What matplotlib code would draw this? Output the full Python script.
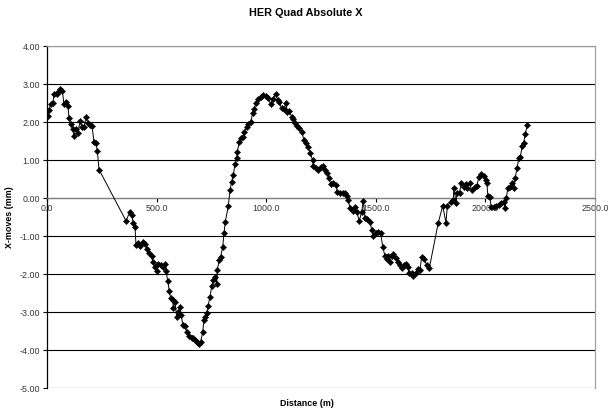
import matplotlib
matplotlib.use("Agg")
import matplotlib.pyplot as plt
from matplotlib.ticker import FormatStrFormatter

plt.rcParams['font.family'] = ['Liberation Sans', 'DejaVu Sans']

distance_m = [
    3.2, 9.1, 16.9, 26.0, 33.3, 44.3, 51.6, 59.3, 69.8, 77.6, 86.7, 95.8, 100.4, 109.5,
    117.2, 123.2, 132.3, 141.4, 150.6, 159.7, 168.8, 177.9, 187.1, 196.2, 205.3, 214.4,
    223.5, 229.5, 237.2,
    360.4, 378.6, 386.4, 393.7, 401.4, 406.0, 416.5, 424.2, 436.6, 447.0, 457.6, 466.7,
    477.6, 482.2, 492.7, 500.4, 507.8, 518.7, 530.6, 538.3, 542.9, 550.6, 557.9, 564.3,
    573.4, 576.2, 583.9, 591.7, 599.0, 606.7, 612.7, 619.0, 629.6, 637.3, 649.2, 660.1,
    667.4, 676.5, 685.7, 694.8,
    701.2, 710.3, 716.2, 720.8, 728.5, 734.5, 743.6, 751.4, 758.7, 766.4, 774.2, 776.9,
    786.0, 792.5, 801.6, 807.5, 813.5, 827.1, 834.9, 842.6, 849.9, 857.7, 865.4, 868.2,
    877.3, 885.1, 892.8, 900.1, 911.1, 918.3, 929.3, 938.4, 944.3, 953.5, 963.9, 974.9,
    986.8, 999.3, 1009.8, 1020.5, 1029.7, 1043.4, 1052.5, 1059.8, 1070.7, 1081.2, 1090.3,
    1096.3, 1105.4, 1116.4, 1123.7, 1131.4, 1141.9, 1151.0, 1162.0, 1172.4, 1181.6, 1192.1,
    1199.8, 1212.1, 1214.9, 1227.2, 1237.7, 1248.6, 1257.8, 1268.2, 1276.0, 1286.5, 1294.3,
    1306.1, 1318.5, 1324.4, 1336.7, 1349.0, 1359.5, 1367.2, 1374.5, 1382.3,
    1394.6, 1405.1, 1412.7, 1424.7, 1435.7, 1443.0, 1450.8, 1461.3, 1473.6, 1481.3, 1488.6,
    1500.9, 1511.4, 1522.3, 1531.4, 1542.0, 1549.7, 1557.0, 1564.8, 1572.5, 1579.8, 1592.1,
    1602.6, 1610.3, 1618.1, 1628.6, 1637.7, 1645.5, 1652.8, 1663.7, 1671.1, 1683.4, 1693.9,
    1701.6, 1709.4, 1719.9, 1732.2, 1744.0,
    1785.0, 1805.2, 1820.2, 1826.2, 1841.6, 1853.5, 1856.0, 1867.0, 1869.9, 1882.1, 1889.8,
    1900.3, 1909.5, 1915.5, 1927.7, 1936.9, 1950.6, 1961.0, 1970.2, 1981.1, 1991.6, 2000.8,
    2006.7, 2011.3, 2019.0, 2026.8, 2037.3, 2049.6, 2061.4, 2072.4, 2082.9, 2088.8, 2095.2,
    2102.5, 2113.5, 2122.6, 2128.5, 2136.3, 2143.6, 2152.7, 2159.2, 2168.3, 2174.2, 2182.0,
    2191.0,
]

x_moves_mm = [
    2.16, 2.32, 2.47, 2.51, 2.74, 2.75, 2.80, 2.86, 2.82, 2.47, 2.53, 2.42, 2.10, 1.94,
    1.81, 1.63, 1.82, 1.70, 2.03, 1.88, 1.86, 2.14, 1.97, 1.92, 1.90, 1.48,
    1.44, 1.25, 0.75,
    -0.60, -0.36, -0.45, -0.65, -0.76, -1.24, -1.19, -1.26, -1.15, -1.21, -1.35, -1.44,
    -1.53, -1.68, -1.81, -1.91, -1.74, -1.76, -1.81, -1.74, -1.91, -2.18, -2.44, -2.64,
    -2.68, -2.90, -2.73, -3.14, -2.99, -2.88, -3.08, -3.34, -3.37, -3.52, -3.63, -3.69,
    -3.68, -3.74, -3.78, -3.84,
    -3.78, -3.52, -3.21, -3.12, -3.03, -2.84, -2.60, -2.32, -2.16, -2.07, -2.26, -1.89,
    -1.63, -1.54, -1.28, -0.93, -0.62, -0.21, 0.21, 0.43, 0.61, 0.89, 1.04, 1.22,
    1.48, 1.57, 1.61, 1.74, 1.88, 1.94, 2.01, 2.23, 2.33, 2.49, 2.60, 2.67,
    2.71, 2.68, 2.62, 2.47, 2.60, 2.73, 2.58, 2.53, 2.36, 2.33, 2.51,
    2.27, 2.30, 2.12, 2.07, 1.97, 1.89, 1.83, 1.74, 1.53, 1.44, 1.35,
    1.18, 1.00, 0.84, 0.78, 0.74, 0.81, 0.84, 0.74, 0.65, 0.52, 0.37,
    0.40, 0.34, 0.17, 0.12, 0.14, 0.12, 0.05, -0.05, -0.27,
    -0.33, -0.24, -0.36, -0.60, -0.36, -0.07, -0.53, -0.56, -0.62, -0.84, -1.00,
    -0.91, -0.89, -0.93, -1.28, -1.53, -1.61, -1.53, -1.68, -1.53, -1.47, -1.59,
    -1.68, -1.76, -1.85, -1.76, -1.74, -1.82, -1.97, -1.98, -2.05, -1.98, -1.88,
    -1.89, -1.54, -1.61, -1.76, -1.85,
    -0.65, -0.21, -0.65, -0.21, -0.10, -0.05, 0.26, -0.14, 0.12, 0.14, 0.39,
    0.30, 0.37, 0.26, 0.40, 0.21, 0.28, 0.32, 0.56, 0.63, 0.58, 0.47,
    0.40, 0.05, 0.02, -0.23, -0.23, -0.21, -0.18, -0.14, -0.10, -0.27, -0.01,
    0.26, 0.30, 0.39, 0.26, 0.52, 0.78, 1.04, 1.09, 1.37, 1.44, 1.68,
    1.92,
]

x_ticks = [0, 500, 1000, 1500, 2000, 2500]
y_ticks = [4, 3, 2, 1, 0, -1, -2, -3, -4, -5]

title_text = "HER Quad Absolute X"
x_label = "Distance (m)"
y_label = "X-moves (mm)"

W, H = 608, 409
fig = plt.figure(figsize=(W / 100, H / 100), dpi=100)
ax = fig.add_axes([47 / W, 1 - 388 / H, 548 / W, 342 / H])

ax.set_xlim(0, 2500)
ax.set_ylim(-5, 4)
ax.set_xticks(x_ticks)
ax.set_yticks(y_ticks)
ax.xaxis.set_major_formatter(FormatStrFormatter('%.1f'))
ax.yaxis.set_major_formatter(FormatStrFormatter('%.2f'))

ax.grid(axis='y', color='black', linewidth=0.8)
ax.set_axisbelow(True)

ax.plot(distance_m, x_moves_mm, color='black', linewidth=0.7,
        marker='D', markersize=3.2, markerfacecolor='black',
        markeredgecolor='black', markeredgewidth=0.3, zorder=3)

ax.spines['bottom'].set_position(('data', 0))
ax.spines['bottom'].set_color('#808080')
ax.spines['bottom'].set_linewidth(0.9)
ax.spines['left'].set_color('black')
ax.spines['left'].set_linewidth(0.9)
for s in ('top', 'right'):
    ax.spines[s].set_color('#a0a0a0')
    ax.spines[s].set_linewidth(0.9)

ax.tick_params(axis='y', direction='out', length=3, width=0.8, pad=2,
               labelsize=6.4, colors='black')
ax.tick_params(axis='x', direction='out', length=3, width=0.8, pad=1,
               labelsize=6.4, colors='black', labelcolor='#333333')
ax.tick_params(axis='y', labelcolor='#333333')

fig.text(306 / W, 1 - 13 / H, title_text, ha='center', va='center',
         fontsize=7.8, fontweight='bold')
fig.text(307 / W, 1 - 403 / H, x_label, ha='center', va='center',
         fontsize=6.4, fontweight='bold')
fig.text(10 / W, 1 - 217 / H, y_label, ha='center', va='center',
         rotation=90, fontsize=6.4, fontweight='bold')

fig.savefig('out.png', dpi=100)
